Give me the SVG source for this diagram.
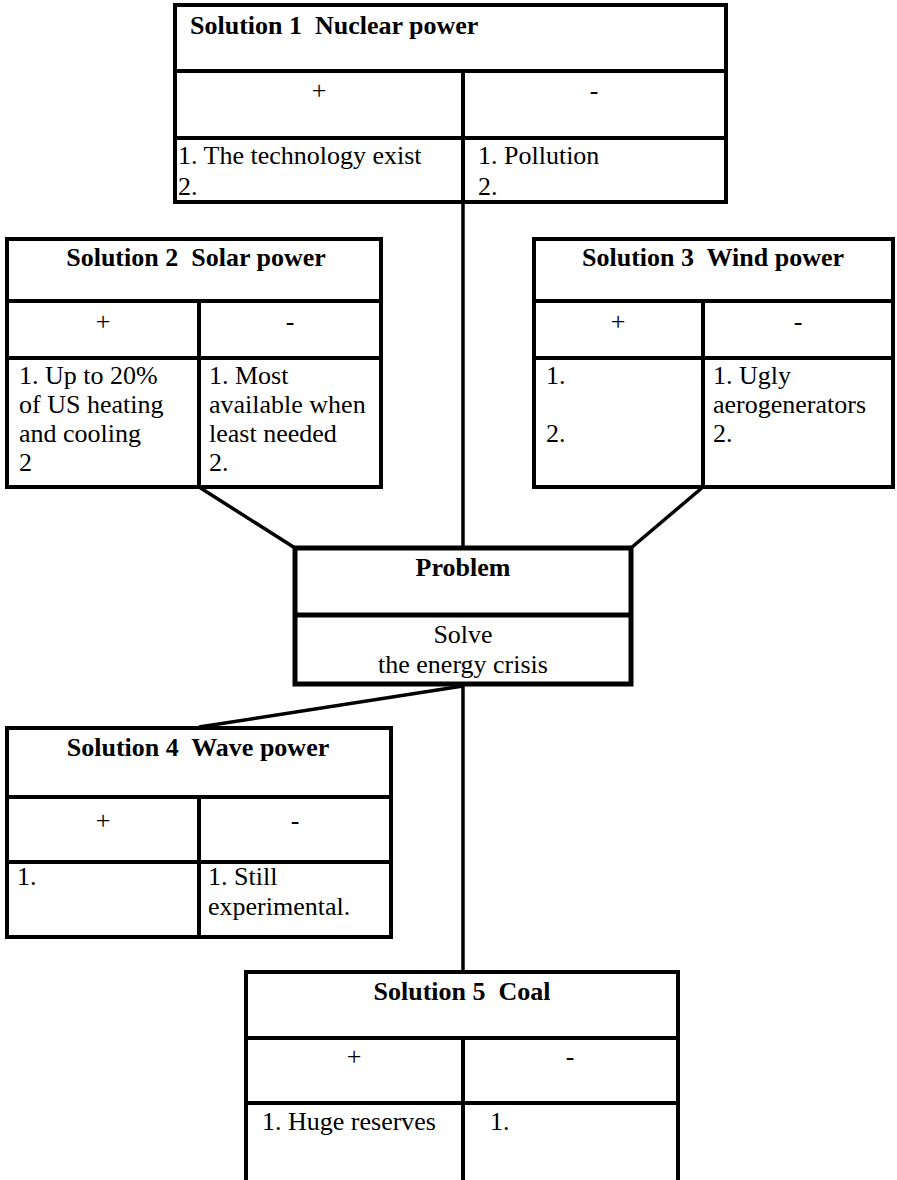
<svg xmlns="http://www.w3.org/2000/svg" width="897" height="1180" viewBox="0 0 897 1180">
<style>
.bg{fill:#ffffff}
.box{fill:#ffffff;stroke:#000;stroke-width:4}
.ln{stroke:#000;stroke-width:4;fill:none}
.pbox{fill:#ffffff;stroke:#000;stroke-width:5}
.pln{stroke:#000;stroke-width:5;fill:none}
.con{stroke:#000;stroke-width:3.5;fill:none}
text{font-family:"Liberation Serif","Times New Roman",serif;font-size:26px;fill:#000}
.t{font-weight:bold}
.c{text-anchor:middle}
</style>
<rect class="bg" x="0" y="0" width="897" height="1180"/>
<g id="connectors">
<line class="con" x1="463" y1="202" x2="463" y2="548"/>
<line class="con" x1="199" y1="487" x2="295" y2="548"/>
<line class="con" x1="703" y1="487" x2="631" y2="548"/>
<line class="con" x1="463" y1="686" x2="199" y2="727"/>
<line class="con" x1="463" y1="684" x2="463" y2="972"/>
</g>
<g id="solution1" font-family="Liberation Serif, serif">
<rect class="box" x="175" y="5" width="551" height="197"/>
<line class="ln" x1="175" y1="71" x2="726" y2="71"/>
<line class="ln" x1="175" y1="138" x2="726" y2="138"/>
<line class="ln" x1="463" y1="71" x2="463" y2="202"/>
<text class="t" x="190" y="34" xml:space="preserve">Solution 1  Nuclear power</text>
<text class="c" x="319" y="99">+</text>
<text class="c" x="594" y="99">-</text>
<text x="178" y="164">1. The technology exist</text>
<text x="178" y="195">2.</text>
<text x="478" y="164">1. Pollution</text>
<text x="478" y="195">2.</text>
</g>
<g id="solution2">
<rect class="box" x="7" y="239" width="374" height="248"/>
<line class="ln" x1="7" y1="301" x2="381" y2="301"/>
<line class="ln" x1="7" y1="358" x2="381" y2="358"/>
<line class="ln" x1="199" y1="301" x2="199" y2="487"/>
<text class="t c" x="196" y="266" xml:space="preserve">Solution 2  Solar power</text>
<text class="c" x="103" y="330">+</text>
<text class="c" x="290" y="330">-</text>
<text x="19" y="384">1. Up to 20%</text>
<text x="19" y="413">of US heating</text>
<text x="19" y="442">and cooling</text>
<text x="19" y="471">2</text>
<text x="209" y="384">1. Most</text>
<text x="209" y="413">available when</text>
<text x="209" y="442">least needed</text>
<text x="209" y="471">2.</text>
</g>
<g id="solution3">
<rect class="box" x="534" y="239" width="359" height="248"/>
<line class="ln" x1="534" y1="301" x2="893" y2="301"/>
<line class="ln" x1="534" y1="358" x2="893" y2="358"/>
<line class="ln" x1="703" y1="301" x2="703" y2="487"/>
<text class="t c" x="713" y="266" xml:space="preserve">Solution 3  Wind power</text>
<text class="c" x="618" y="330">+</text>
<text class="c" x="798" y="330">-</text>
<text x="546" y="384">1.</text>
<text x="546" y="442">2.</text>
<text x="713" y="384">1. Ugly</text>
<text x="713" y="413">aerogenerators</text>
<text x="713" y="442">2.</text>
</g>
<g id="problem">
<rect class="pbox" x="295" y="548" width="336" height="136"/>
<line class="pln" x1="295" y1="615" x2="631" y2="615"/>
<text class="t c" x="463" y="576">Problem</text>
<text class="c" x="463" y="643">Solve</text>
<text class="c" x="463" y="673">the energy crisis</text>
</g>
<g id="solution4">
<rect class="box" x="7" y="728" width="384" height="209"/>
<line class="ln" x1="7" y1="797" x2="391" y2="797"/>
<line class="ln" x1="7" y1="862" x2="391" y2="862"/>
<line class="ln" x1="199" y1="797" x2="199" y2="937"/>
<text class="t c" x="198" y="756" xml:space="preserve">Solution 4  Wave power</text>
<text class="c" x="103" y="829">+</text>
<text class="c" x="295" y="829">-</text>
<text x="17" y="885">1.</text>
<text x="208" y="885">1. Still</text>
<text x="208" y="915">experimental.</text>
</g>
<g id="solution5">
<path class="ln" d="M246 1182 V972 H678 V1182"/>
<line class="ln" x1="246" y1="1038" x2="678" y2="1038"/>
<line class="ln" x1="246" y1="1103" x2="678" y2="1103"/>
<line class="ln" x1="463" y1="1038" x2="463" y2="1182"/>
<text class="t c" x="462" y="1000" xml:space="preserve">Solution 5  Coal</text>
<text class="c" x="354" y="1065">+</text>
<text class="c" x="570" y="1065">-</text>
<text x="262" y="1130">1. Huge reserves</text>
<text x="490" y="1130">1.</text>
</g>
</svg>
